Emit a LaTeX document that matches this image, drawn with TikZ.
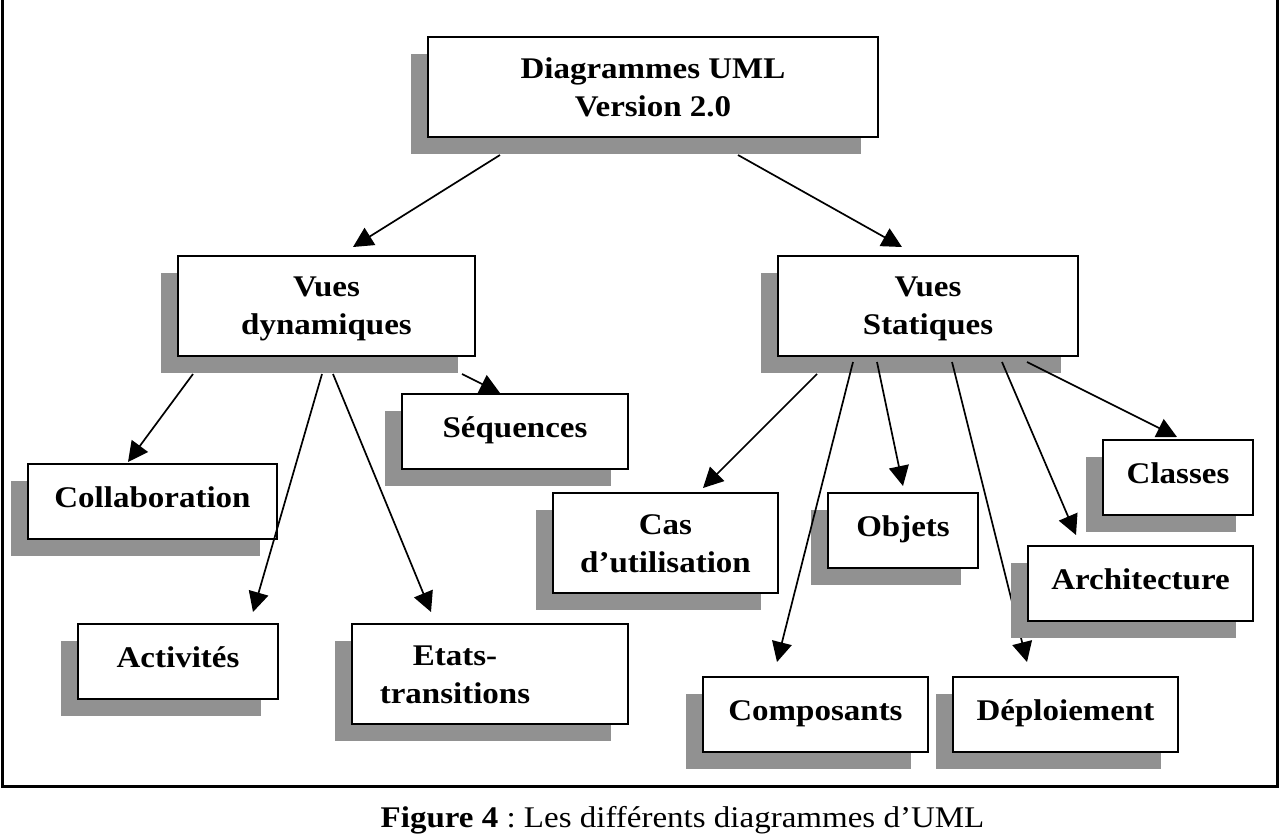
\documentclass[tikz,border=0pt]{standalone}
\usepackage{fontspec}
\setmainfont{Liberation Serif}[FakeStretch=1.1]
\usetikzlibrary{arrows.meta,shadows}
\definecolor{shadowgray}{RGB}{145,145,145}
\newcommand\sline{\rule[-6pt]{0pt}{32.3pt}}
\newcommand\oline{\rule[-12pt]{0pt}{36pt}}
\frenchspacing
\begin{document}
\begin{tikzpicture}[x=1pt,y=-1pt,
  ubox/.style={draw, line width=2pt, fill=white, inner sep=0pt, align=center,
    font=\fontsize{30}{38}\selectfont\bfseries,
    drop shadow={shadow xshift=-17pt, shadow yshift=-17pt, fill=shadowgray, opacity=1}},
  arr/.style={line width=1.7pt, -{Triangle[length=20pt,width=20pt]}}]
\useasboundingbox (0,0) rectangle (1280,836);
% frame
\draw[line width=3pt] (2.5,-5) -- (2.5,786.5) -- (1277.5,786.5) -- (1277.5,-5);

\node[ubox, minimum width=450pt, minimum height=100pt] (main) at (653,87) {\sline Diagrammes UML\\Version 2.0\sline};
\node[ubox, minimum width=297pt, minimum height=100pt] (vd) at (326.5,306) {\sline Vues\\dynamiques\sline};
\node[ubox, minimum width=300pt, minimum height=100pt] (vs) at (928,306) {\sline Vues\\Statiques\sline};
\node[ubox, minimum width=226pt, minimum height=75pt] (seq) at (515,431.5) {\oline Séquences};
\node[ubox, minimum width=249pt, minimum height=75pt] (col) at (152.5,501.5) {\oline Collaboration};
\node[ubox, minimum width=200pt, minimum height=75pt] (act) at (178,661.5) {\oline Activités};
\node[ubox, minimum width=276pt, minimum height=100pt] (eta) at (490,674) {\sline Etats-\hspace*{70pt}\\transitions\hspace*{70pt}\sline};
\node[ubox, minimum width=225pt, minimum height=100pt] (cas) at (665.5,543) {\sline Cas\\d’utilisation\sline};
\node[ubox, minimum width=150pt, minimum height=75pt] (obj) at (903,530.5) {\oline Objets};
\node[ubox, minimum width=150pt, minimum height=75pt] (cla) at (1178,477.5) {\oline Classes};
\node[ubox, minimum width=225pt, minimum height=75pt] (com) at (815.5,714.5) {\oline Composants};
\node[ubox, minimum width=225pt, minimum height=75pt] (dep) at (1065.5,714.5) {\oline Déploiement};

% this connector passes behind the Architecture box
\draw[arr] ([shift={(24,56)}]vs.center) -- ([shift={(-38.5,-52.5)}]dep.center);

\node[ubox, minimum width=225pt, minimum height=75pt] (arc) at (1140.5,583.5) {\oline Architecture};

\draw[arr] ([shift={(-153,68)}]main.center) -- ([shift={(26.5,-59)}]vd.center);
\draw[arr] ([shift={(85,68)}]main.center) -- ([shift={(-26,-59)}]vs.center);
\draw[arr] ([shift={(-133.5,68)}]vd.center) -- ([shift={(-24.5,-39.5)}]col.center);
\draw[arr] ([shift={(-4.5,68)}]vd.center) -- ([shift={(75,-49.5)}]act.center);
\draw[arr] ([shift={(6.5,68)}]vd.center) -- ([shift={(-59,-62)}]eta.center);
\draw[arr] ([shift={(135.5,68)}]vd.center) -- ([shift={(-15,-38.5)}]seq.center);
\draw[arr] ([shift={(-111,68)}]vs.center) -- ([shift={(37.5,-55)}]cas.center);
\draw[arr] ([shift={(-75,56)}]vs.center) -- ([shift={(-38.5,-52.5)}]com.center);
\draw[arr] ([shift={(-51,56)}]vs.center) -- ([shift={(0,-44.5)}]obj.center);
\draw[arr] ([shift={(74,56)}]vs.center) -- ([shift={(-64.5,-48.5)}]arc.center);
\draw[arr] ([shift={(99,56)}]vs.center) -- ([shift={(-1,-40.5)}]cla.center);

\node[anchor=base, font=\fontsize{30}{36}\selectfont] (cap) at (682.5,827) {\textbf{Figure 4} : Les différents diagrammes d’UML};
\end{tikzpicture}
\end{document}
